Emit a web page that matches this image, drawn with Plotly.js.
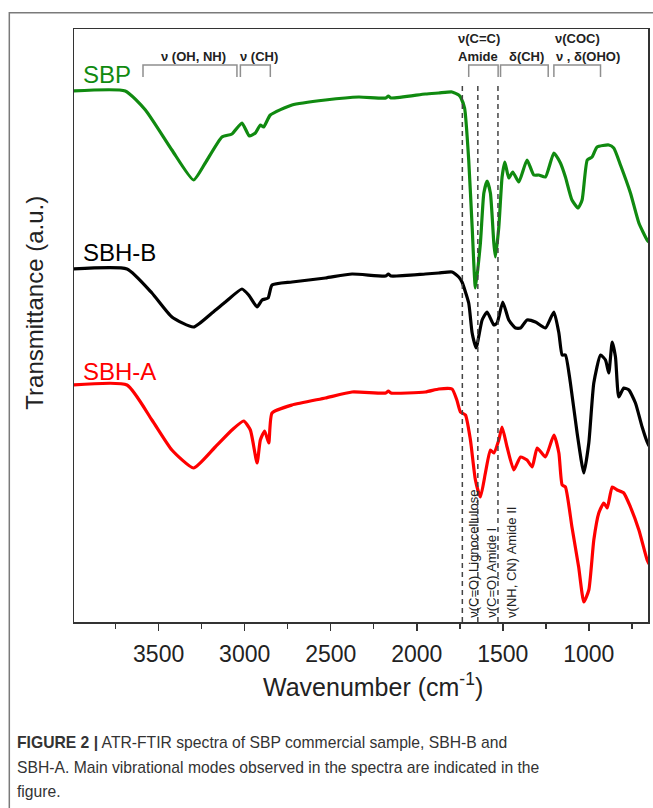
<!DOCTYPE html>
<html>
<head>
<meta charset="utf-8">
<script src="https://cdn.plot.ly/plotly-3.0.1.min.js"></script>
<style>
  html, body { margin: 0; padding: 0; background: #fff; }
  #chart { width: 653px; height: 808px; }
</style>
</head>
<body>
<div id="chart"></div>
<script>
// ---- Data (wavenumber in cm-1, transmittance in arbitrary offset units) ----
const sbpWavenumber = [4000,3694,3577,3423,3297,3229,3132,3074,3016,2973,2938,2909,2890,2851,2725,2531,2337,2180,2165,2150,1950,1872,1795,1756,1746,1722,1698,1678,1659,1630,1610,1591,1572,1552,1543,1523,1504,1488,1465,1442,1407,1359,1320,1291,1252,1203,1165,1136,1098,1062,1039,1009,981,952,884,855,816,758,709,661,650];
const sbpTransmittance = [5.31,5.31,5.12,4.72,4.42,4.59,4.85,4.88,4.99,4.86,4.89,4.97,4.95,5.07,5.17,5.22,5.25,5.24,5.26,5.24,5.28,5.29,5.30,5.27,5.25,5.14,4.62,3.95,3.34,3.79,4.29,4.41,4.29,3.79,3.65,3.95,4.45,4.60,4.44,4.50,4.40,4.62,4.47,4.47,4.45,4.69,4.59,4.45,4.22,4.14,4.22,4.62,4.65,4.75,4.77,4.74,4.57,4.29,3.99,3.82,3.80];

const sbhBWavenumber = [4000,3684,3539,3423,3297,3190,3112,3016,2977,2928,2899,2864,2841,2725,2531,2376,2180,2165,2150,1950,1872,1795,1756,1737,1698,1678,1655,1620,1591,1552,1533,1500,1465,1426,1397,1359,1310,1252,1203,1174,1155,1136,1107,1068,1029,1000,971,932,903,884,864,845,826,797,767,729,690,661,650];
const sbhBTransmittance = [3.53,3.53,3.29,3.05,2.95,3.09,3.20,3.33,3.27,3.15,3.22,3.24,3.37,3.40,3.44,3.48,3.46,3.48,3.46,3.48,3.49,3.50,3.45,3.40,3.19,2.89,2.74,3.02,3.10,2.97,2.99,3.20,3.02,2.94,2.94,3.02,3.00,2.94,3.10,2.89,2.67,2.67,2.39,1.89,1.49,1.79,2.39,2.67,2.62,2.49,2.80,2.65,2.25,2.34,2.32,2.19,1.95,1.80,1.76];

const sbhAWavenumber = [4000,3684,3539,3423,3297,3171,3074,3006,2967,2928,2909,2884,2860,2841,2725,2531,2376,2180,2165,2150,1950,1872,1795,1767,1746,1717,1688,1659,1630,1601,1572,1552,1523,1504,1475,1436,1397,1359,1329,1300,1252,1203,1174,1155,1136,1098,1059,1029,1000,971,942,913,893,864,835,797,758,709,661,650];
const sbhATransmittance = [2.37,2.37,2.02,1.72,1.54,1.75,1.92,2.01,1.92,1.59,1.82,1.91,1.79,2.09,2.17,2.24,2.30,2.29,2.31,2.29,2.30,2.33,2.33,2.22,2.10,2.07,1.82,1.42,1.25,1.49,1.72,1.69,1.82,1.95,1.75,1.52,1.65,1.62,1.55,1.74,1.65,1.87,1.69,1.37,1.35,0.95,0.55,0.20,0.32,0.82,1.09,1.19,1.14,1.35,1.32,1.29,1.15,0.92,0.62,0.58];

const seriesNames = ["SBP", "SBH-B", "SBH-A"];

// Band regions marked with brackets at the top [from, to] (cm-1)
const bandRegions = [[3591,3045],[3025,2851],[1698,1527],[1513,1236],[1203,932]];
const bandLabels = [
  {text: "ν (OH, NH)", wn: 3299, row: 2},
  {text: "ν (CH)", wn: 2916, row: 2},
  {text: "ν(C=C)", wn: 1638, row: 1},
  {text: "Amide", wn: 1643, row: 2},
  {text: "δ(CH)", wn: 1363, row: 2},
  {text: "ν(COC)", wn: 1067, row: 1},
  {text: "ν , δ(OHO)", wn: 1005, row: 2}
];
// Dashed marker lines (cm-1) and their vertical labels
const markerWavenumbers = [1735, 1645, 1528];
const markerLabels = ["ν(C=O) Lignocellulose", "ν(C=O) Amide I", "ν(NH, CN) Amide II"];
const markerLabelWavenumbers = [1674, 1570, 1450];

const xTitle = "Wavenumber (cm<sup>-1</sup>)";
const yTitle = "Transmittance (a.u.)";
const captionLines = [
  "<b>FIGURE 2 |</b> ATR-FTIR spectra of SBP commercial sample, SBH-B and",
  "SBH-A. Main vibrational modes observed in the spectra are indicated in the",
  "figure."
];

// ---- Styling ----
const FONT = "Liberation Sans, Arial, Helvetica, sans-serif";
const colors = ["#108a10", "#000000", "#ff0000"];
const lineW = 3.2;

const traces = [
  {x: sbpWavenumber, y: sbpTransmittance},
  {x: sbhBWavenumber, y: sbhBTransmittance},
  {x: sbhAWavenumber, y: sbhATransmittance}
].map((d, i) => ({
  type: "scatter", mode: "lines", name: seriesNames[i],
  x: d.x, y: d.y,
  line: {color: colors[i], width: lineW, shape: "spline", smoothing: 0.5},
  hoverinfo: "skip"
}));

const Y_MAX = 5.93;
const bracketTop = 5.57, bracketBottom = 5.45;
const shapes = [];
bandRegions.forEach(([a, b]) => {
  shapes.push({
    type: "path", xref: "x", yref: "y",
    path: `M ${a},${bracketBottom} L ${a},${bracketTop} L ${b},${bracketTop} L ${b},${bracketBottom}`,
    line: {color: "#8f8f8f", width: 1.5}
  });
});
markerWavenumbers.forEach(w => {
  shapes.push({
    type: "line", xref: "x", yref: "y", x0: w, x1: w, y0: 0, y1: 5.39,
    line: {color: "#444", width: 1.5, dash: "5px,4px"}
  });
});
// outer figure frame (top and left edges)
shapes.push({
  type: "path", xref: "paper", yref: "paper",
  path: "M -0.1127,-0.33 L -0.1127,1.0275 L 1.05,1.0275",
  line: {color: "#7a7a7a", width: 1.5}
});

const annotations = [];
bandLabels.forEach(b => {
  annotations.push({
    xref: "x", yref: "y", x: b.wn, y: b.row === 1 ? 5.835 : 5.66,
    text: "<b>" + b.text + "</b>", showarrow: false,
    xanchor: "center", yanchor: "middle",
    font: {family: FONT, size: 13, color: "#222"}
  });
});
markerLabels.forEach((t, i) => {
  annotations.push({
    xref: "x", yref: "y", x: markerLabelWavenumbers[i], y: 0.02,
    text: t, showarrow: false, textangle: -90,
    xanchor: "center", yanchor: "bottom",
    font: {family: FONT, size: 13, color: "#222"}
  });
});
const seriesLabelY = [5.48, 3.695, 2.505];
seriesNames.forEach((n, i) => {
  annotations.push({
    xref: "x", yref: "y", x: 3952, y: seriesLabelY[i],
    text: n, showarrow: false, xanchor: "left", yanchor: "middle",
    font: {family: FONT, size: 24, color: colors[i]}
  });
});
// axis titles
annotations.push({
  xref: "paper", yref: "paper", x: (373 - 74) / 574.3, y: (621.7 - 685) / 592.7,
  text: xTitle, showarrow: false, xanchor: "center", yanchor: "middle",
  font: {family: FONT, size: 25, color: "#222"}
});
annotations.push({
  xref: "paper", yref: "paper", x: (35 - 74) / 574.3, y: (621.7 - 302.5) / 592.7,
  text: yTitle, showarrow: false, textangle: -90, xanchor: "center", yanchor: "middle",
  font: {family: FONT, size: 24, color: "#222"}
});
// caption
const captionY = [742, 767, 791];
captionLines.forEach((t, i) => {
  annotations.push({
    xref: "paper", yref: "paper", x: (15 - 74) / 574.3, y: (621.7 - captionY[i]) / 592.7,
    text: t, showarrow: false, xanchor: "left", yanchor: "middle", align: "left",
    font: {family: FONT, size: 15.7, color: "#333"}
  });
});

const layout = {
  width: 653, height: 808,
  margin: {l: 74, r: 5, t: 29, b: 186, pad: 0},
  paper_bgcolor: "#fff", plot_bgcolor: "#fff",
  showlegend: false,
  xaxis: {
    range: [3992, 656], showgrid: false, zeroline: false,
    showline: true, mirror: true, linecolor: "#333", linewidth: 1.5,
    ticks: "outside", ticklen: 7, tickwidth: 1.5, tickcolor: "#333",
    tick0: 0, dtick: 500, ticklabelstandoff: 4,
    tickfont: {family: FONT, size: 23, color: "#222"},
    minor: {ticks: "outside", ticklen: 5, tickwidth: 1.5, tickcolor: "#333", dtick: 250, showgrid: false}
  },
  yaxis: {
    range: [0, Y_MAX], showgrid: false, zeroline: false,
    showline: true, mirror: true, linecolor: "#333", linewidth: 1.5,
    ticks: "", showticklabels: false
  },
  shapes: shapes,
  annotations: annotations
};

Plotly.newPlot("chart", traces, layout, {staticPlot: true, displayModeBar: false});
</script>
</body>
</html>
